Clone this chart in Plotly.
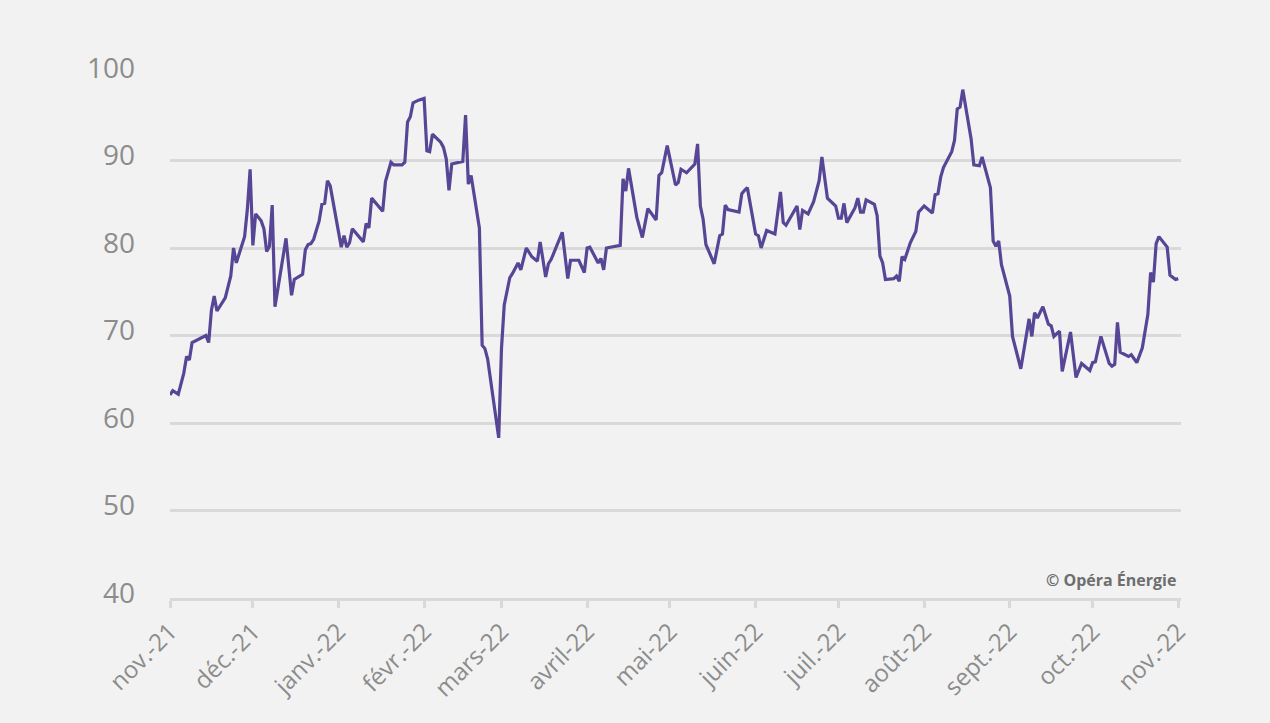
import pandas as pd
import plotly.graph_objects as go

# ---- data ----
start_date = "2021-11-01"
# days since 1 Nov 2021
day_offsets = [
    0, 1, 3, 4, 5, 6, 7, 8, 13, 14, 15, 16, 17, 20, 22, 23, 24, 27, 28, 29,
    30, 31, 33, 34, 35, 36, 37, 38, 40, 42, 44, 45, 48, 49, 50, 51, 52, 54, 55, 56,
    57, 58,
    62, 63, 64, 65, 66, 70, 71, 72, 73, 77, 78, 80, 81, 84, 85, 86, 87, 88, 90, 92,
    93, 94, 95, 98, 99, 100, 101, 102, 106, 107, 108, 109, 112, 113, 114, 115, 119, 120, 121, 123,
    124, 126, 127, 129, 131, 133, 134, 136, 137, 138, 142, 144, 145, 148, 150, 151, 152, 155, 156, 157,
    158, 163, 164, 165, 166, 169, 171, 173, 176, 177, 178, 180, 183, 184,
    185, 187, 190, 191, 192, 193, 194, 197, 199, 200, 201, 202, 206, 207, 208, 209, 212, 213, 214, 216,
    219, 221, 222, 223, 227, 228, 229, 231, 233, 235, 236, 238, 241, 242, 243, 244, 245, 248, 249, 250,
    251, 252, 255, 256, 257, 258, 259, 262, 263, 264, 265, 266, 268, 270, 271, 273, 276, 277, 278, 279,
    280, 283, 284, 285, 286, 287, 290, 291, 293, 294, 297, 298, 299, 300, 301, 304, 305,
    308, 311, 312, 313, 314, 316, 318, 319, 320, 322, 323, 326, 328, 330, 333, 334, 335, 337, 340, 341,
    342, 343, 344, 347, 348, 350, 352, 354, 355, 356, 357, 358, 361, 362, 364, 365,
]
values = [
    63.2, 63.7, 63.3, 64.5, 65.7, 67.6, 67.2, 69.2, 70.0, 69.2, 72.9, 74.5, 72.8, 74.3, 76.8, 80.0, 78.3, 81.3, 84.4, 89.0,
    80.3, 83.9, 83.1, 82.2, 79.6, 80.2, 84.9, 73.3, 77.2, 81.1, 74.6, 76.4, 77.0, 79.8, 80.4, 80.5, 81.0, 83.1, 85.0, 85.1,
    87.7, 87.1,
    80.1, 81.4, 80.1, 80.6, 82.2, 80.7, 82.8, 82.3, 85.7, 84.2, 87.6, 89.8, 89.5, 89.5, 89.8, 94.4, 95.0, 96.6, 96.9, 97.1,
    91.1, 91.0, 93.0, 92.1, 91.5, 90.2, 86.6, 89.6, 89.9, 95.2, 87.3, 88.3, 82.3, 68.9, 68.5, 67.3, 58.3, 68.5, 73.5, 76.6,
    77.1, 78.3, 77.5, 80.0, 79.0, 78.5, 80.7, 76.7, 78.2, 78.7, 81.8, 76.5, 78.6, 78.6, 77.2, 80.0, 80.1, 78.3, 78.8, 77.5,
    80.0, 80.3, 87.9, 86.5, 89.1, 83.5, 81.2, 84.5, 83.2, 88.3, 88.6, 91.7, 87.2, 87.5,
    89.0, 88.6, 89.6, 91.9, 84.8, 83.3, 80.4, 78.2, 81.4, 81.6, 84.9, 84.4, 84.1, 86.2, 86.6, 86.9, 81.6, 81.4, 80.0, 82.0,
    81.6, 86.4, 82.9, 82.6, 84.8, 82.1, 84.3, 83.9, 85.3, 87.7, 90.4, 85.7, 84.8, 83.4, 83.4, 85.1, 82.9, 84.6, 85.7, 84.1,
    84.1, 85.5, 85.0, 83.7, 79.1, 78.3, 76.4, 76.5, 76.8, 76.2, 79.0, 78.7, 80.6, 81.9, 84.1, 84.8, 84.0, 86.1, 86.2, 88.1,
    89.2, 91.0, 92.3, 95.9, 96.1, 98.1, 92.5, 89.5, 89.4, 90.4, 86.9, 80.8, 80.2, 80.8, 78.1, 74.5, 69.9,
    66.2, 71.9, 69.9, 72.6, 72.0, 73.3, 71.3, 71.1, 69.9, 70.5, 65.9, 70.4, 65.2, 66.8, 66.0, 66.9, 67.0, 69.9, 66.8, 66.5,
    66.7, 71.5, 68.1, 67.6, 67.8, 66.9, 68.6, 72.4, 77.2, 76.1, 80.5, 81.3, 80.1, 76.9, 76.4, 76.5,
]
tick_dates = [
    "2021-11-01", "2021-12-01", "2022-01-01", "2022-02-01", "2022-03-01", "2022-04-01", "2022-05-01",
    "2022-06-01", "2022-07-01", "2022-08-01", "2022-09-01", "2022-10-01", "2022-11-01",
]
tick_labels = [
    "nov.-21", "déc.-21", "janv.-22", "févr.-22", "mars-22", "avril-22", "mai-22",
    "juin-22", "juil.-22", "août-22", "sept.-22", "oct.-22", "nov.-22",
]
y_ticks = [40, 50, 60, 70, 80, 90, 100]
credit = "© Opéra Énergie"

dates = pd.Timestamp(start_date) + pd.to_timedelta(day_offsets, unit="D")

BG = "#f2f2f2"
GRID = "#d9d9d9"
LABEL = "#8c8c8c"
LINE = "#574595"
FONT = "Open Sans"

fig = go.Figure()
fig.add_trace(go.Scatter(
    x=dates, y=values, mode="lines",
    line=dict(color=LINE, width=3.2),
    hoverinfo="skip", showlegend=False,
))

fig.update_layout(
    width=1270, height=723,
    paper_bgcolor=BG, plot_bgcolor=BG,
    margin=dict(l=170, r=89, t=73, b=125),
    font=dict(family=FONT, color=LABEL),
    showlegend=False,
)
fig.update_xaxes(
    type="date",
    range=["2021-11-01", "2022-11-02"],
    tickvals=tick_dates, ticktext=tick_labels,
    tickangle=-45,
    tickfont=dict(family=FONT, size=24, color=LABEL),
    showgrid=False, zeroline=False,
    showline=True, linecolor=GRID, linewidth=3,
    ticks="outside", ticklen=7, tickwidth=3, tickcolor=GRID,
)
fig.update_yaxes(
    range=[40, 100],
    tickvals=y_ticks,
    tickfont=dict(family=FONT, size=28, color=LABEL),
    showgrid=True, gridcolor=GRID, gridwidth=2.5,
    zeroline=False, showline=False, ticks="",
    ticklabelstandoff=34,
    ticklabelshift=-5,
)
fig.add_annotation(
    text="<b>" + credit + "</b>",
    xref="paper", x=1, xanchor="right", xshift=-3,
    yref="y", y=42.1, yanchor="middle",
    showarrow=False,
    font=dict(family=FONT, size=16, color="#6e6e6e"),
)

fig.write_html(
    "out.html",
    config={"displayModeBar": False},
    post_script="document.body.style.margin='0';document.body.style.background='#f2f2f2';",
)
